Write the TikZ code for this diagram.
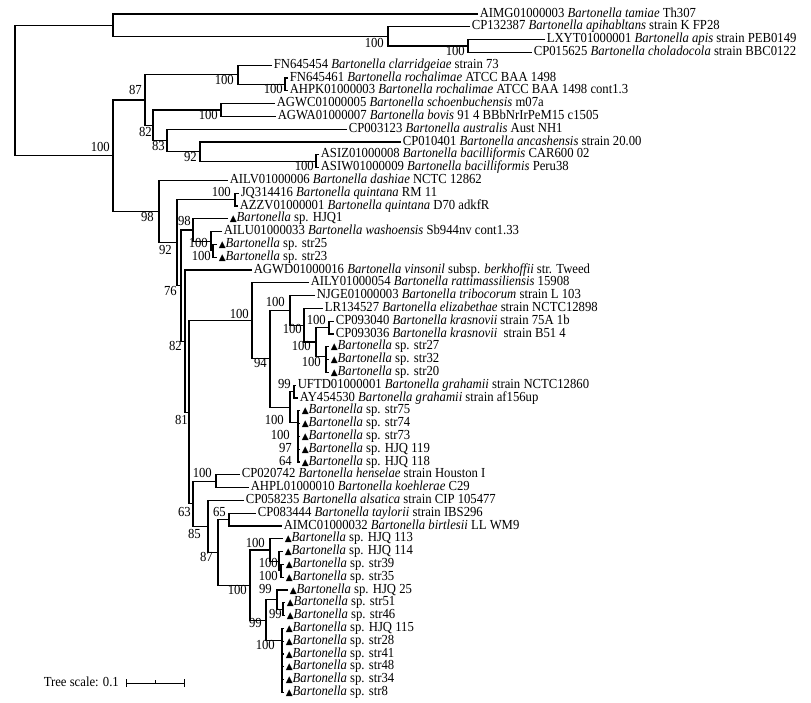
\documentclass[tikz,border=0pt]{standalone}
\usepackage{fontspec}
\setmainfont{Liberation Serif}[FakeStretch=0.92]
\newfontfamily\symf{DejaVu Sans}
\usetikzlibrary{calc}
\newcommand\tri{{\symf\fontsize{9}{9}\selectfont ▲}}
\newcommand\Bsp[1]{\tri\textit{Bartonella} sp. #1}
\newcommand\mknode[4]{\path let \p1=($(#3)!0.5!(#4)$) in coordinate (#1) at (#2pt,\y1);}
\newcommand\edg[3]{\draw[br] (#2) -| (#1) |- (#3);}
\begin{document}
\begin{tikzpicture}[x=1pt,y=-1pt,
  lf/.style={anchor=west, inner xsep=1.6pt, inner ysep=0pt, text height=8.8pt, text depth=2.6pt, font=\fontsize{13.8}{14}\selectfont},
  bs/.style={anchor=east, inner sep=0pt, text height=8.8pt, text depth=2.6pt, font=\fontsize{13.8}{14}\selectfont},
  br/.style={line width=1.1pt, line join=miter}]
\useasboundingbox (0,0) rectangle (811,703);
% leaves
\node[lf] (L1) at (478,14.0) {AIMG01000003 \textit{Bartonella tamiae} Th307};
\node[lf] (L2) at (470,26.8) {CP132387 \textit{Bartonella apihabltans} strain K FP28};
\node[lf] (L3) at (545,39.6) {LXYT01000001 \textit{Bartonella apis} strain PEB0149};
\node[lf] (L4) at (532,52.4) {CP015625 \textit{Bartonella choladocola} strain BBC0122};
\node[lf] (L5) at (272,65.2) {FN645454 \textit{Bartonella clarridgeiae} strain 73};
\node[lf] (L6) at (288,78.0) {FN645461 \textit{Bartonella rochalimae} ATCC BAA 1498};
\node[lf] (L7) at (288,90.8) {AHPK01000003 \textit{Bartonella rochalimae} ATCC BAA 1498 cont1.3};
\node[lf] (L8) at (275,103.6) {AGWC01000005 \textit{Bartonella schoenbuchensis} m07a};
\node[lf] (L9) at (276,116.4) {AGWA01000007 \textit{Bartonella bovis} 91 4 BBbNrIrPeM15 c1505};
\node[lf] (L10) at (347,129.2) {CP003123 \textit{Bartonella australis} Aust NH1};
\node[lf] (L11) at (401,142.0) {CP010401 \textit{Bartonella ancashensis} strain 20.00};
\node[lf] (L12) at (319,154.8) {ASIZ01000008 \textit{Bartonella bacilliformis} CAR600 02};
\node[lf] (L13) at (319,167.6) {ASIW01000009 \textit{Bartonella bacilliformis} Peru38};
\node[lf] (L14) at (228,180.4) {AILV01000006 \textit{Bartonella dashiae} NCTC 12862};
\node[lf] (L15) at (239,193.2) {JQ314416 \textit{Bartonella quintana} RM 11};
\node[lf] (L16) at (238,206.0) {AZZV01000001 \textit{Bartonella quintana} D70 adkfR};
\node[lf] (L17) at (228,218.8) {\Bsp{HJQ1}};
\node[lf] (L18) at (222,231.6) {AILU01000033 \textit{Bartonella washoensis} Sb944nv cont1.33};
\node[lf] (L19) at (217,244.4) {\Bsp{str25}};
\node[lf] (L20) at (217,257.2) {\Bsp{str23}};
\node[lf] (L21) at (252,270.0) {AGWD01000016 \textit{Bartonella vinsonil} subsp. \textit{berkhoffii} str. Tweed};
\node[lf] (L22) at (309,282.8) {AILY01000054 \textit{Bartonella rattimassiliensis} 15908};
\node[lf] (L23) at (315,295.6) {NJGE01000003 \textit{Bartonella tribocorum} strain L 103};
\node[lf] (L24) at (323,308.4) {LR134527 \textit{Bartonella elizabethae} strain NCTC12898};
\node[lf] (L25) at (334,321.2) {CP093040 \textit{Bartonella krasnovii} strain 75A 1b};
\node[lf] (L26) at (334,334.0) {CP093036 \textit{Bartonella krasnovii}\ \ strain B51 4};
\node[lf] (L27) at (329,346.8) {\Bsp{str27}};
\node[lf] (L28) at (329,359.6) {\Bsp{str32}};
\node[lf] (L29) at (329,372.4) {\Bsp{str20}};
\node[lf] (L30) at (296,385.2) {UFTD01000001 \textit{Bartonella grahamii} strain NCTC12860};
\node[lf] (L31) at (298,398.0) {AY454530 \textit{Bartonella grahamii} strain af156up};
\node[lf] (L32) at (300,410.8) {\Bsp{str75}};
\node[lf] (L33) at (300,423.6) {\Bsp{str74}};
\node[lf] (L34) at (300,436.4) {\Bsp{str73}};
\node[lf] (L35) at (300,449.2) {\Bsp{HJQ 119}};
\node[lf] (L36) at (300,462.0) {\Bsp{HJQ 118}};
\node[lf] (L37) at (240,474.8) {CP020742 \textit{Bartonella henselae} strain Houston I};
\node[lf] (L38) at (249,487.6) {AHPL01000010 \textit{Bartonella koehlerae} C29};
\node[lf] (L39) at (244,500.4) {CP058235 \textit{Bartonella alsatica} strain CIP 105477};
\node[lf] (L40) at (256,513.2) {CP083444 \textit{Bartonella taylorii} strain IBS296};
\node[lf] (L41) at (282,526.0) {AIMC01000032 \textit{Bartonella birtlesii} LL WM9};
\node[lf] (L42) at (283,538.8) {\Bsp{HJQ 113}};
\node[lf] (L43) at (283,551.6) {\Bsp{HJQ 114}};
\node[lf] (L44) at (284,564.4) {\Bsp{str39}};
\node[lf] (L45) at (284,577.2) {\Bsp{str35}};
\node[lf] (L46) at (288,590.0) {\Bsp{HJQ 25}};
\node[lf] (L47) at (285,602.8) {\Bsp{str51}};
\node[lf] (L48) at (285,615.6) {\Bsp{str46}};
\node[lf] (L49) at (284,628.4) {\Bsp{HJQ 115}};
\node[lf] (L50) at (284,641.2) {\Bsp{str28}};
\node[lf] (L51) at (284,654.0) {\Bsp{str41}};
\node[lf] (L52) at (284,666.8) {\Bsp{str48}};
\node[lf] (L53) at (284,679.6) {\Bsp{str34}};
\node[lf] (L54) at (284,692.4) {\Bsp{str8}};
% internal nodes
\mknode{C}{468}{L3}{L4}
\mknode{B}{388}{L2}{C}
\mknode{A}{113}{L1}{B}
\mknode{H}{285}{L6}{L7}
\mknode{F}{238}{L5}{H}
\mknode{I}{221}{L8}{L9}
\mknode{Ln}{316}{L12}{L13}
\mknode{K}{200}{L11}{Ln}
\mknode{J}{167}{L10}{K}
\mknode{G}{153}{I}{J}
\mknode{E}{145}{F}{G}
\mknode{Q}{235}{L15}{L16}
\mknode{Pr}{213}{L19}{L20}
\mknode{Wa}{211}{L18}{Pr}
\mknode{S}{193}{L17}{Wa}
\mknode{AD}{329}{L25}{L26}
\mknode{AF}{326}{L28}{L29}
\mknode{AE}{326}{L27}{AF}
\mknode{AC}{316}{AD}{AE}
\mknode{AB}{304}{L24}{AC}
\mknode{Z}{290}{L23}{AB}
\mknode{AG}{294}{L30}{L31}
\mknode{AH4}{298}{L35}{L36}
\mknode{AH3}{298}{L34}{AH4}
\mknode{AH2}{298}{L33}{AH3}
\mknode{AH}{298}{L32}{AH2}
\mknode{AA}{290}{AG}{AH}
\mknode{Y}{270}{Z}{AA}
\mknode{W}{252}{L22}{Y}
\mknode{HN}{216}{L37}{L38}
\mknode{TB}{229}{L40}{L41}
\mknode{CC}{281}{L44}{L45}
\mknode{CB}{279}{L43}{CC}
\mknode{CA}{270}{L42}{CB}
\mknode{C4}{283}{L47}{L48}
\mknode{C3}{277}{L46}{C4}
\mknode{P5}{282}{L53}{L54}
\mknode{P4}{282}{L52}{P5}
\mknode{P3}{282}{L51}{P4}
\mknode{P2}{282}{L50}{P3}
\mknode{PP}{282}{L49}{P2}
\mknode{CD}{266}{C3}{PP}
\mknode{BG}{250}{CA}{CD}
\mknode{ZB}{218}{TB}{BG}
\mknode{ZA}{208}{L39}{ZB}
\mknode{U}{193}{HN}{ZA}
\mknode{V}{189}{W}{U}
\mknode{T}{185}{L21}{V}
\mknode{P}{181}{S}{T}
\mknode{N}{177}{Q}{P}
\mknode{M}{159}{L14}{N}
\mknode{D}{113}{E}{M}
\mknode{R}{15}{A}{D}
% branches
\edg{R}{A}{D}
\edg{A}{L1}{B}\edg{B}{L2}{C}\edg{C}{L3}{L4}
\edg{D}{E}{M}\edg{E}{F}{G}\edg{F}{L5}{H}\edg{H}{L6}{L7}
\edg{G}{I}{J}\edg{I}{L8}{L9}\edg{J}{L10}{K}\edg{K}{L11}{Ln}\edg{Ln}{L12}{L13}
\edg{M}{L14}{N}\edg{N}{Q}{P}\edg{Q}{L15}{L16}\edg{P}{S}{T}
\edg{S}{L17}{Wa}\edg{Wa}{L18}{Pr}\edg{Pr}{L19}{L20}
\edg{T}{L21}{V}\edg{V}{W}{U}\edg{W}{L22}{Y}\edg{Y}{Z}{AA}
\edg{Z}{L23}{AB}\edg{AB}{L24}{AC}\edg{AC}{AD}{AE}\edg{AD}{L25}{L26}
\edg{AE}{L27}{AF}\edg{AF}{L28}{L29}
\edg{AA}{AG}{AH}\edg{AG}{L30}{L31}\edg{AH}{L32}{AH2}\edg{AH2}{L33}{AH3}
\edg{AH3}{L34}{AH4}\edg{AH4}{L35}{L36}
\edg{U}{HN}{ZA}\edg{HN}{L37}{L38}\edg{ZA}{L39}{ZB}\edg{ZB}{TB}{BG}\edg{TB}{L40}{L41}
\edg{BG}{CA}{CD}\edg{CA}{L42}{CB}\edg{CB}{L43}{CC}\edg{CC}{L44}{L45}
\edg{CD}{C3}{PP}\edg{C3}{L46}{C4}\edg{C4}{L47}{L48}
\edg{PP}{L49}{P2}\edg{P2}{L50}{P3}\edg{P3}{L51}{P4}\edg{P4}{L52}{P5}\edg{P5}{L53}{L54}
% support values
\node[bs] (bB) at (384,44) {100};
\node[bs] (bC) at (465,52.4) {100};
\node[bs] (bD) at (110,148) {100};
\node[bs] (bE) at (142,91) {87};
\node[bs] (bF) at (234,81) {100};
\node[bs] (bH) at (283,90) {100};
\node[bs] (bI) at (218,116) {100};
\node[bs] (bG) at (152,133) {82};
\node[bs] (bJ) at (165,147) {83};
\node[bs] (bK) at (197,158.5) {92};
\node[bs] (bLn) at (314,167.6) {100};
\node[bs] (bM) at (154,218) {98};
\node[bs] (bQ) at (231,193.2) {100};
\node[bs] (bS) at (191,222) {98};
\node[bs] (bN) at (172,251) {92};
\node[bs] (bWa) at (208,244.6) {100};
\node[bs] (bPr) at (211,257.6) {100};
\node[bs] (bP) at (177,292.4) {76};
\node[bs] (bW) at (249,315) {100};
\node[bs] (bZ) at (285,303.5) {100};
\node[bs] (bAB) at (302,330.5) {100};
\node[bs] (bAD) at (326,321.2) {100};
\node[bs] (bAC) at (311,347.5) {100};
\node[bs] (bAE) at (321,363) {100};
\node[bs] (bY) at (267,364.5) {94};
\node[bs] (bT) at (182,347.5) {82};
\node[bs] (bAG) at (291,385.2) {99};
\node[bs] (bV) at (188,421) {81};
\node[bs] (bAA) at (284,421) {100};
\node[bs] (bAH2) at (290,436.4) {100};
\node[bs] (bAH3) at (292,449.2) {97};
\node[bs] (bAH4) at (292,462) {64};
\node[bs] (bHN) at (212,474.8) {100};
\node[bs] (bU) at (191,513.2) {63};
\node[bs] (bTB) at (226,513.2) {65};
\node[bs] (bZA) at (201,535.5) {85};
\node[bs] (bCA) at (265,544) {100};
\node[bs] (bZB) at (213,558) {87};
\node[bs] (bCB) at (278,564.4) {100};
\node[bs] (bCC) at (278,577.2) {100};
\node[bs] (bBG) at (247,591.7) {100};
\node[bs] (bC3) at (272,590) {99};
\node[bs] (bC4) at (282,615.6) {99};
\node[bs] (bCD) at (262,624.5) {99};
\node[bs] (bPP) at (275,646) {100};
% scale bar
\node[bs] (ts) at (119,683) {Tree scale: 0.1};
\coordinate (sb1) at (126,683);
\coordinate (sb2) at (184,683);
\coordinate (sbm) at (155,683);
\draw[line width=0.9pt] (sb1) -- (sb2);
\draw[line width=0.9pt] ([yshift=-4pt]sb1) -- ([yshift=4pt]sb1);
\draw[line width=0.9pt] ([yshift=-4pt]sb2) -- ([yshift=4pt]sb2);
\draw[line width=0.9pt] (sbm) -- ([yshift=3pt]sbm);
\end{tikzpicture}
\end{document}
